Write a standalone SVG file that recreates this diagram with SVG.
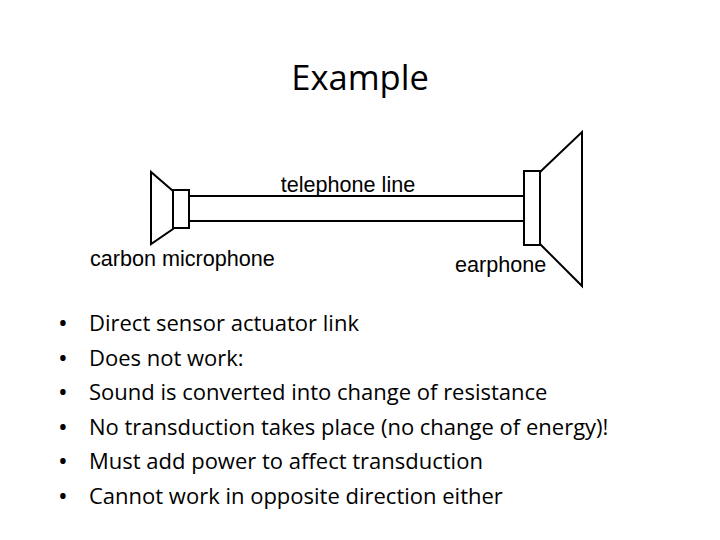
<svg xmlns="http://www.w3.org/2000/svg" width="720" height="540" viewBox="0 0 720 540">
<style>
.d{fill:none;stroke:#000;stroke-width:2}
.l{font-family:"Liberation Sans",Arial,sans-serif;font-size:21.6px;fill:#000}
.b{font-family:"Open Sans","Liberation Sans",sans-serif;font-size:22px;fill:#000}
</style>
<rect width="720" height="540" fill="#fff"/>
<text x="360" y="90" text-anchor="middle" font-family="Open Sans, Liberation Sans, sans-serif" font-size="34.5">Example</text>
<g id="microphone">
<path class="d" d="M151 172 V244 L173 229 V191 Z"/>
<rect class="d" x="173" y="190" width="16" height="38"/>
</g>
<g id="connectors">
<path class="d" d="M189 196 H524 M189 221 H524"/>
</g>
<g id="earphone">
<rect class="d" x="524" y="171" width="16" height="74"/>
<path class="d" d="M540 172 L582 132 V286 L540 244"/>
</g>
<text class="l" x="348" y="192" text-anchor="middle">telephone line</text>
<text class="l" x="90" y="266">carbon microphone</text>
<text class="l" x="455" y="272">earphone</text>
<g id="bullets" class="b">
<text x="58" y="332" font-size="26">•</text><text x="89" y="331">Direct sensor actuator link</text>
<text x="58" y="367" font-size="26">•</text><text x="89" y="366">Does not work:</text>
<text x="58" y="401" font-size="26">•</text><text x="89" y="400">Sound is converted into change of resistance</text>
<text x="58" y="436" font-size="26">•</text><text x="89" y="435">No transduction takes place (no change of energy)!</text>
<text x="58" y="470" font-size="26">•</text><text x="89" y="469">Must add power to affect transduction</text>
<text x="58" y="505" font-size="26">•</text><text x="89" y="504">Cannot work in opposite direction either</text>
</g>
</svg>
